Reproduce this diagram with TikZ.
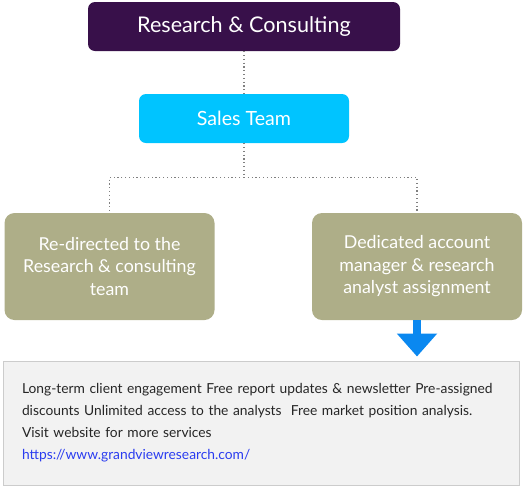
\documentclass[tikz,border=0pt]{standalone}
\usepackage{fontspec}
\setmainfont{Lato}
\usetikzlibrary{positioning,calc,arrows.meta}
\definecolor{rcpurple}{HTML}{38104A}
\definecolor{salescyan}{HTML}{00C4FF}
\definecolor{olive}{HTML}{AEAE88}
\definecolor{arrowblue}{HTML}{0A88F0}
\definecolor{notefill}{HTML}{F2F2F2}
\definecolor{noteline}{HTML}{CCCCCC}
\definecolor{urlblue}{HTML}{2A3CF0}
\tikzstyle{box} = [rounded corners=7pt,text=white,align=center,inner sep=0pt]
\tikzstyle{team} = [box,fill=olive,rounded corners=10pt,minimum width=210,minimum height=107,font=\fontsize{17.8}{22.5}\selectfont]
\tikzstyle{link} = [draw=gray,line width=1.2pt,dash pattern=on 1.2pt off 2.6pt]

\begin{document}
\begin{tikzpicture}[x=1pt,y=-1pt]
    \useasboundingbox (0,0) rectangle (529,491);

    \node [box,fill=rcpurple,minimum width=312,minimum height=49,font=\fontsize{21.6}{24}\selectfont] (rc) at (244,26.5) {Research \& Consulting};
    \node [box,fill=salescyan,minimum width=210,minimum height=49,font=\fontsize{19.6}{22}\selectfont] (sales) at (244,118.5) {Sales Team};
    \node [team] (redirect) at (109.5,266.5) {Re-directed to the\\Research \& consulting\\team};
    \node [team] (manager) at (417,266.5) {Dedicated account\\manager \& research\\analyst assignment};

    \node [draw=noteline,fill=notefill,line width=1pt,minimum width=516,minimum height=124,text width=478,inner xsep=19,align=left,text=black!85,font=\fontsize{13.8}{22}\selectfont] (note) at (261,423)
        {\mbox{Long-term client engagement Free report updates \& newsletter Pre-assigned}\\\mbox{discounts Unlimited access to the analysts \ Free market position analysis.}\\Visit website for more services\\\textcolor{urlblue}{https://www.grandviewresearch.com/}};

    \draw [link] (rc.south) -- (sales.north);
    \draw [link] (sales.south) -- ++(0,34) coordinate (fork);
    \draw [link] (fork) -| (redirect.north);
    \draw [link] (fork) -| (manager.north);

    \draw [arrowblue,line width=8pt,-{Triangle[width=39pt,length=23pt]},shorten >=4pt] (manager.south) -- (manager.south |- note.north);
\end{tikzpicture}
\end{document}
